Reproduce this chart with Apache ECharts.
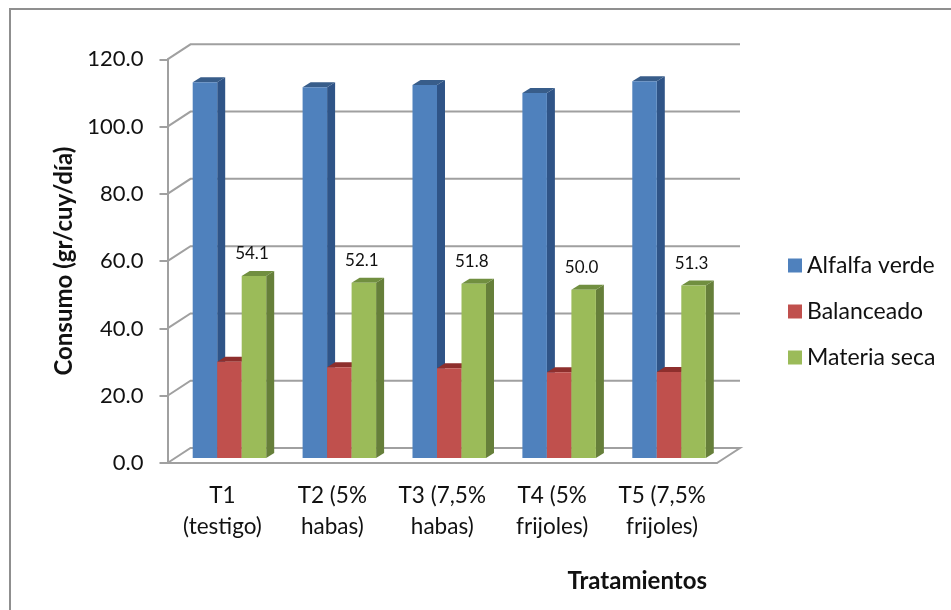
<!DOCTYPE html>
<html><head><meta charset="utf-8">
<style>html,body{margin:0;padding:0;background:#fff}#c{width:951px;height:610px}</style>
<script src="https://cdn.jsdelivr.net/npm/echarts@6/dist/echarts.min.js"></script>
</head><body><div id="c"></div>
<script>
const categories = ['T1\n(testigo)','T2 (5%\nhabas)','T3 (7,5%\nhabas)','T4 (5%\nfrijoles)','T5 (7,5%\nfrijoles)'];
const alfalfa = [111.7,110.2,110.9,108.5,112.0];
const balanceado = [28.6,27.0,26.7,25.5,25.6];
const materia = [54.1,52.1,51.8,50.0,51.3];
const yTicks = [0,20,40,60,80,100,120];

const FONT='Lato';
const GRID='#a0a0a0', TXT='#111';
const WALL_DX=23, WALL_DY=-15;   // depth of the 3D floor
const BAR_DX=8, BAR_DY=-5;       // depth of each bar
const OFF_X=7, OFF_Y=-5;         // front face of bars relative to front plane
const BAR_W=24.5;

function poly(points,fill,z2){return {type:'polygon',shape:{points},style:{fill,stroke:null},z2:z2||0};}

function barRenderer(idx,front,side,top,labelled){
  return function(params,api){
    const cat=api.value(0), v=api.value(1);
    const base=api.coord([cat,0]), t=api.coord([cat,v]);
    const x0=base[0]+OFF_X+(idx-1.5)*BAR_W, x1=x0+BAR_W;
    const y0=base[1]+OFF_Y, y1=t[1]+OFF_Y;
    const children=[
      poly([[x1,y0],[x1+BAR_DX,y0+BAR_DY],[x1+BAR_DX,y1+BAR_DY],[x1,y1]],side),
      poly([[x0,y1],[x1,y1],[x1+BAR_DX,y1+BAR_DY],[x0+BAR_DX,y1+BAR_DY]],top),
      {type:'rect',shape:{x:x0,y:y1,width:BAR_W,height:y0-y1},style:{fill:front}}
    ];
    if(labelled){
      children.push({type:'text',style:{text:v.toFixed(1),x:(x0+x1)/2-2,y:y1-22,align:'center',verticalAlign:'middle',
        font:'17px '+FONT,fill:TXT}});
    }
    return {type:'group',children};
  };
}

function wallRenderer(params,api){
  const v=api.value(1);
  const y=api.coord([0,v])[1];
  const cs=params.coordSys;
  const lx=cs.x, rx=cs.x+cs.width;
  const st={stroke:GRID,lineWidth:2,fill:null};
  const pts=[[lx,y],[lx+WALL_DX,y+WALL_DY],[rx+WALL_DX,y+WALL_DY]];
  if(v===0)pts.push([rx,y]);
  return {type:'polyline',shape:{points:pts},style:st};
}

function pairs(a){return a.map((v,i)=>[i,v]);}

const chart=echarts.init(document.getElementById('c'),null,{renderer:'canvas'});
chart.setOption({
  animation:false,
  backgroundColor:'#fff',
  textStyle:{fontFamily:FONT},
  graphic:[
    {type:'line',silent:true,shape:{x1:10,y1:9,x2:951,y2:9},style:{stroke:'#8f8f8f',lineWidth:2}},
    {type:'line',silent:true,shape:{x1:10,y1:8,x2:10,y2:610},style:{stroke:'#8f8f8f',lineWidth:2}}
  ],
  grid:{left:167.5,top:59.3,width:549.5,height:403.7,containLabel:false},
  legend:{
    orient:'vertical',left:783,top:248,itemWidth:14,itemHeight:14,itemGap:21,icon:'rect',
    data:['Alfalfa verde','Balanceado','Materia seca'],
    textStyle:{fontFamily:FONT,fontSize:23,color:TXT,lineHeight:25,padding:[0,0,0,0]}
  },
  xAxis:{
    type:'category',data:categories,
    axisLine:{lineStyle:{color:GRID,width:2}},
    axisTick:{alignWithLabel:false,length:7,lineStyle:{color:GRID,width:2}},
    axisLabel:{fontFamily:FONT,fontSize:22.5,color:TXT,lineHeight:31,margin:17,interval:0},
    name:'Tratamientos',nameLocation:'middle',nameGap:106,
    nameTextStyle:{fontFamily:FONT,fontSize:24,fontWeight:'bold',color:TXT,padding:[0,0,0,390]}
  },
  yAxis:{
    type:'value',min:0,max:120,interval:20,
    axisLine:{show:true,lineStyle:{color:GRID,width:2}},
    axisTick:{show:true,length:8,lineStyle:{color:GRID,width:2}},
    splitLine:{show:false},
    axisLabel:{fontFamily:FONT,fontSize:22,color:TXT,margin:24,formatter:v=>v.toFixed(1)},
    name:'Consumo (gr/cuy/día)',nameLocation:'middle',nameGap:91,
    nameTextStyle:{fontFamily:FONT,fontSize:24,fontWeight:'bold',color:TXT}
  },
  series:[
    {type:'custom',name:'walls',renderItem:wallRenderer,data:yTicks.map(v=>[0,v]),z:1,silent:true,clip:false},
    {type:'custom',name:'Alfalfa verde',renderItem:barRenderer(0,'#4f81bd','#2f5487','#385d8a',false),data:pairs(alfalfa),encode:{x:0,y:1},itemStyle:{color:'#4f81bd'},z:3},
    {type:'custom',name:'Balanceado',renderItem:barRenderer(1,'#c0504d','#8e2f2d','#8e2f2d',false),data:pairs(balanceado),encode:{x:0,y:1},itemStyle:{color:'#c0504d'},z:4},
    {type:'custom',name:'Materia seca',renderItem:barRenderer(2,'#9bbb59','#667f3a','#718f40',true),data:pairs(materia),encode:{x:0,y:1},itemStyle:{color:'#9bbb59'},z:5}
  ]
});
</script></body></html>
